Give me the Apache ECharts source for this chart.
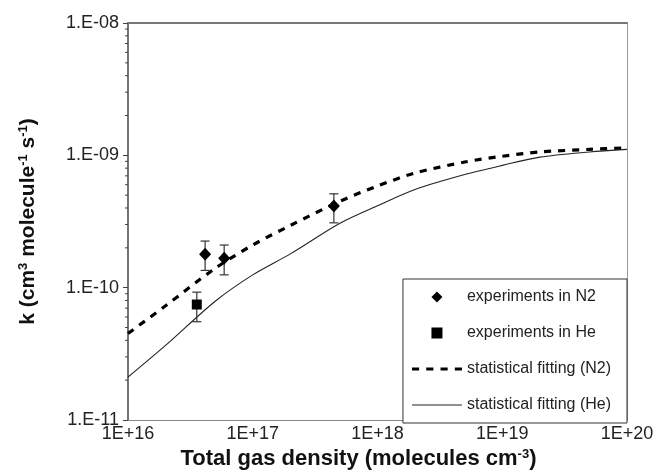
<!DOCTYPE html>
<html>
<head>
<meta charset="utf-8">
<script src="https://cdn.jsdelivr.net/npm/echarts@6/dist/echarts.min.js"></script>
<style>
  html, body { margin: 0; padding: 0; background: #fff; }
  #chart { width: 657px; height: 475px; }
</style>
</head>
<body>
<div id="chart"></div>
<script>
// k vs total gas density, log-log
const FONT = "Liberation Sans, Arial, sans-serif";

// experiments in N2: density, rate, error low, error high
const n2Density = [4.15e16, 5.9e16, 4.47e17];
const n2Rate    = [1.79e-10, 1.67e-10, 4.14e-10];
const n2Low     = [1.35e-10, 1.25e-10, 3.09e-10];
const n2High    = [2.25e-10, 2.10e-10, 5.12e-10];

// experiments in He
const heDensity = [3.56e16];
const heRate    = [7.46e-11];
const heLow     = [5.53e-11];
const heHigh    = [9.25e-11];

// statistical fittings
const fitDensity = [1e16, 2e16, 5e16, 1e17, 2e17, 5e17, 1e18, 2e18, 5e18, 1e19, 2e19, 5e19, 1e20];
const fitN2 = [4.5e-11, 7.3e-11, 1.40e-10, 2.10e-10, 2.95e-10, 4.5e-10, 5.87e-10, 7.35e-10, 8.9e-10, 9.84e-10, 1.06e-9, 1.11e-9, 1.14e-9];
const fitHe = [2.11e-11, 3.66e-11, 7.9e-11, 1.25e-10, 1.80e-10, 3.07e-10, 4.16e-10, 5.52e-10, 7.16e-10, 8.4e-10, 9.7e-10, 1.06e-9, 1.11e-9];

// y axis minor ticks (2..9 inside each decade)
const minorDecades = [1e-11, 1e-10, 1e-9];
const minorMant = [2, 3, 4, 5, 6, 7, 8, 9];
const minorTicks = [];
minorDecades.forEach(d => minorMant.forEach(m => minorTicks.push([m * d])));

const zip = (a, b) => a.map((v, i) => [v, b[i]]);
const errData = (x, lo, hi) => x.map((v, i) => [v, lo[i], hi[i]]);

const yLabel = v => {
  const e = Math.round(Math.log10(v));
  return "1.E-" + String(-e).padStart(2, "0");
};
const xLabel = v => "1E+" + Math.round(Math.log10(v));

function errorBar(params, api) {
  const top = api.coord([api.value(0), api.value(2)]);
  const bot = api.coord([api.value(0), api.value(1)]);
  const w = 4.5;
  const st = { stroke: "#333", lineWidth: 1.2 };
  return {
    type: "group",
    children: [
      { type: "line", shape: { x1: top[0], y1: top[1], x2: bot[0], y2: bot[1] }, style: st },
      { type: "line", shape: { x1: top[0] - w, y1: top[1], x2: top[0] + w, y2: top[1] }, style: st },
      { type: "line", shape: { x1: bot[0] - w, y1: bot[1], x2: bot[0] + w, y2: bot[1] }, style: st }
    ]
  };
}

const supStyle = { fontFamily: FONT, fontSize: 13, fontWeight: "bold", color: "#111",
                   verticalAlign: "top", padding: [0, 0, 9, 0] };

const chart = echarts.init(document.getElementById("chart"), null, { renderer: "canvas" });
chart.setOption({
  animation: false,
  backgroundColor: "#fff",
  textStyle: { fontFamily: FONT },
  grid: { left: 128, right: 30, top: 23, bottom: 52 },
  xAxis: [{
    type: "log", logBase: 10, min: 1e16, max: 1e20,
    name: "Total gas density (molecules cm{sup|-3})",
    nameLocation: "middle", nameGap: 28,
    nameTextStyle: {
      fontFamily: FONT, fontSize: 22, fontWeight: "bold", color: "#111",
      padding: [0, 38, 0, 0], rich: { sup: supStyle }
    },
    axisLine: { lineStyle: { color: "#888", width: 1.2 } },
    axisTick: { show: false },
    axisLabel: { formatter: xLabel, color: "#222", fontSize: 18, margin: 5, fontFamily: FONT },
    splitLine: { show: false }
  }, {
    type: "log", logBase: 10, min: 1e16, max: 1e20, position: "top",
    axisLine: { lineStyle: { color: "#777", width: 2 } },
    axisTick: { show: false }, axisLabel: { show: false }, splitLine: { show: false }
  }],
  yAxis: [{
    type: "log", logBase: 10, min: 1e-11, max: 1e-8,
    name: "k (cm{sup|3} molecule{sup|-1} s{sup|-1})",
    nameLocation: "middle", nameGap: 89, nameRotate: 90,
    nameTextStyle: {
      fontFamily: FONT, fontSize: 21, fontWeight: "bold", color: "#111",
      rich: { sup: supStyle }
    },
    axisLine: { lineStyle: { color: "#444", width: 1.5 } },
    axisTick: { show: true, length: 5, lineStyle: { color: "#444" } },
    axisLabel: { formatter: yLabel, color: "#222", fontSize: 18, margin: 9, fontFamily: FONT },
    splitLine: { show: false }
  }, {
    type: "log", logBase: 10, min: 1e-11, max: 1e-8, position: "right",
    axisLine: { show: true, lineStyle: { color: "#999", width: 1 } },
    axisTick: { show: false }, axisLabel: { show: false }, splitLine: { show: false }
  }],
  legend: {
    orient: "vertical",
    right: 30, bottom: 52,
    symbolKeepAspect: true,
    data: [
      { name: "experiments in N2", icon: "path://M5,0L10,5L5,10L0,5Z", itemStyle: { color: "#000" } },
      { name: "experiments in He", icon: "path://M0,0H10V10H0Z", itemStyle: { color: "#000" } },
      { name: "statistical fitting (N2)", icon: "path://M0,0h7v3h-7zM14,0h7v3h-7zM28,0h7v3h-7zM42,0h7v3h-7z",
        itemStyle: { color: "#000" } },
      { name: "statistical fitting (He)", icon: "path://M0,0h50v1.2h-50z", itemStyle: { color: "#222" } }
    ],
    itemWidth: 50, itemHeight: 11, itemGap: 20,
    padding: [10, 16, 10, 9],
    borderColor: "#333", borderWidth: 1, borderRadius: 0,
    backgroundColor: "#fff",
    textStyle: { fontFamily: FONT, fontSize: 16, color: "#222" }
  },
  series: [
    {
      name: "statistical fitting (He)", type: "line", smooth: 0.3,
      data: zip(fitDensity, fitHe), symbol: "none",
      lineStyle: { color: "#222", width: 1.1 }, itemStyle: { color: "#222" }, z: 2
    },
    {
      name: "statistical fitting (N2)", type: "line", smooth: 0.3,
      data: zip(fitDensity, fitN2), symbol: "none",
      lineStyle: { color: "#000", width: 3.2, type: [7, 7] }, itemStyle: { color: "#000" }, z: 2
    },
    {
      name: "errN2", type: "custom", renderItem: errorBar, silent: true, z: 3,
      data: errData(n2Density, n2Low, n2High)
    },
    {
      name: "errHe", type: "custom", renderItem: errorBar, silent: true, z: 3,
      data: errData(heDensity, heLow, heHigh)
    },
    {
      name: "experiments in N2", type: "scatter", symbol: "diamond", symbolSize: [12, 13],
      data: zip(n2Density, n2Rate), itemStyle: { color: "#000", opacity: 1 }, z: 4
    },
    {
      name: "experiments in He", type: "scatter", symbol: "rect", symbolSize: 10,
      data: zip(heDensity, heRate), itemStyle: { color: "#000", opacity: 1 }, z: 4
    },
    {
      name: "minorTicks", type: "custom", silent: true, clip: false,
      data: minorTicks,
      renderItem: (params, api) => {
        const p = api.coord([1e16, api.value(0)]);
        return { type: "line", shape: { x1: p[0] - 3, y1: p[1], x2: p[0], y2: p[1] },
                 style: { stroke: "#444", lineWidth: 1 } };
      }
    }
  ]
});
</script>
</body>
</html>
